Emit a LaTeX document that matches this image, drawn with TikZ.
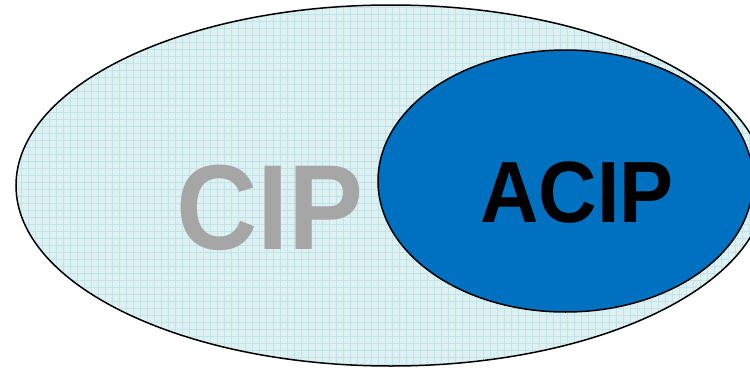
\documentclass[tikz,border=0pt]{standalone}
\usepackage{fontspec}
\setmainfont{Liberation Sans}
\definecolor{lightfill}{HTML}{DEF1F2}
\definecolor{gridcol}{HTML}{C2E4E6}
\definecolor{acipblue}{HTML}{0070C0}
\definecolor{cipgray}{HTML}{A6A6A6}
\tikzset{
  outline/.style={draw=black, line width=1.5pt},
  biglabel/.style={anchor=base, inner sep=0pt, font=\bfseries, xscale=0.93}
}
\begin{document}
\begin{tikzpicture}[x=1pt,y=-1pt]
\useasboundingbox (0,0) rectangle (750,367);
% large ellipse with grid texture
\fill[lightfill] (391,185.5) ellipse [x radius=375, y radius=180.5];
\begin{scope}
  \clip (391,185.5) ellipse [x radius=375, y radius=180.5];
  \draw[gridcol, line width=0.5pt, step=7pt] (0,0) grid (770,370);
\end{scope}
\draw[outline] (391,185.5) ellipse [x radius=375, y radius=180.5];
% small ellipse
\filldraw[fill=acipblue, outline] (565.5,181) ellipse [x radius=187.5, y radius=131];
% labels
\node[biglabel, text=cipgray, font=\fontsize{121}{121}\selectfont\bfseries] (cip) at (270,249) {CIP};
\node[biglabel, text=black, font=\fontsize{87}{87}\selectfont\bfseries] (acip) at (577,222) {ACIP};
\end{tikzpicture}
\end{document}
